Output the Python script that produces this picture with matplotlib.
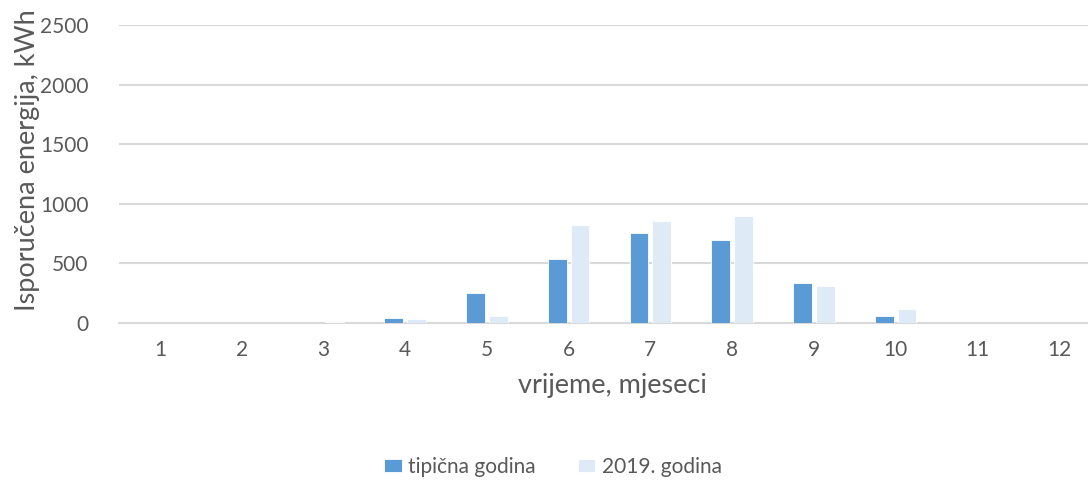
import numpy as np
import matplotlib.pyplot as plt

months = [1, 2, 3, 4, 5, 6, 7, 8, 9, 10, 11, 12]
tipicna = [0, 0, 0, 40, 254, 537, 752, 694, 333, 56, 0, 0]
godina_2019 = [0, 0, 10, 33, 61, 825, 858, 898, 310, 120, 3, 0]
yticks = [0, 500, 1000, 1500, 2000, 2500]

plt.rcParams['font.family'] = ['Lato', 'DejaVu Sans']

fig = plt.figure(figsize=(10.88, 4.8), dpi=100)
# axes goes a bit past the right edge, the reference is cropped there
ax = fig.add_axes([119 / 1088, (480 - 323) / 480, 981 / 1088, 298 / 480])

x = np.arange(len(months))
w = 0.23
ax.bar(x - 0.14, tipicna, w, color='#5B9BD5', edgecolor='white', linewidth=0.6,
       label='tipična godina', zorder=3)
ax.bar(x + 0.14, godina_2019, w, color='#DEEBF7', edgecolor='white', linewidth=0.6,
       label='2019. godina', zorder=3)

ax.set_xlim(-0.5, len(months) - 0.5)
ax.set_ylim(0, 2500)
ax.set_yticks(yticks)
ax.set_xticks(x)
ax.set_xticklabels([str(m) for m in months])
ax.yaxis.grid(True, color='#D9D9D9', linewidth=1.5, zorder=0)
for s in ['top', 'right', 'left']:
    ax.spines[s].set_visible(False)
ax.spines['bottom'].set_color('#D9D9D9')
ax.spines['bottom'].set_linewidth(1.5)
ax.tick_params(axis='both', length=0, labelsize=15, colors='#595959')
ax.tick_params(axis='x', pad=12)
ax.tick_params(axis='y', pad=22)

fig.text(28 / 1088, 1 - 160 / 480, 'Isporučena energija, kWh', rotation=90,
         ha='center', va='center', fontsize=19.5, color='#595959')
fig.text(612 / 1088, 1 - 385 / 480, 'vrijeme, mjeseci', ha='center', va='center',
         fontsize=19.5, color='#595959')

leg = fig.legend(loc='center', bbox_to_anchor=(553 / 1088, 1 - 467 / 480), ncol=2,
                 frameon=False, fontsize=15, handlelength=0.85, handleheight=0.6,
                 handletextpad=0.3, columnspacing=2.0, borderaxespad=0)
for t in leg.get_texts():
    t.set_color('#595959')

fig.savefig('out.png', dpi=100)
